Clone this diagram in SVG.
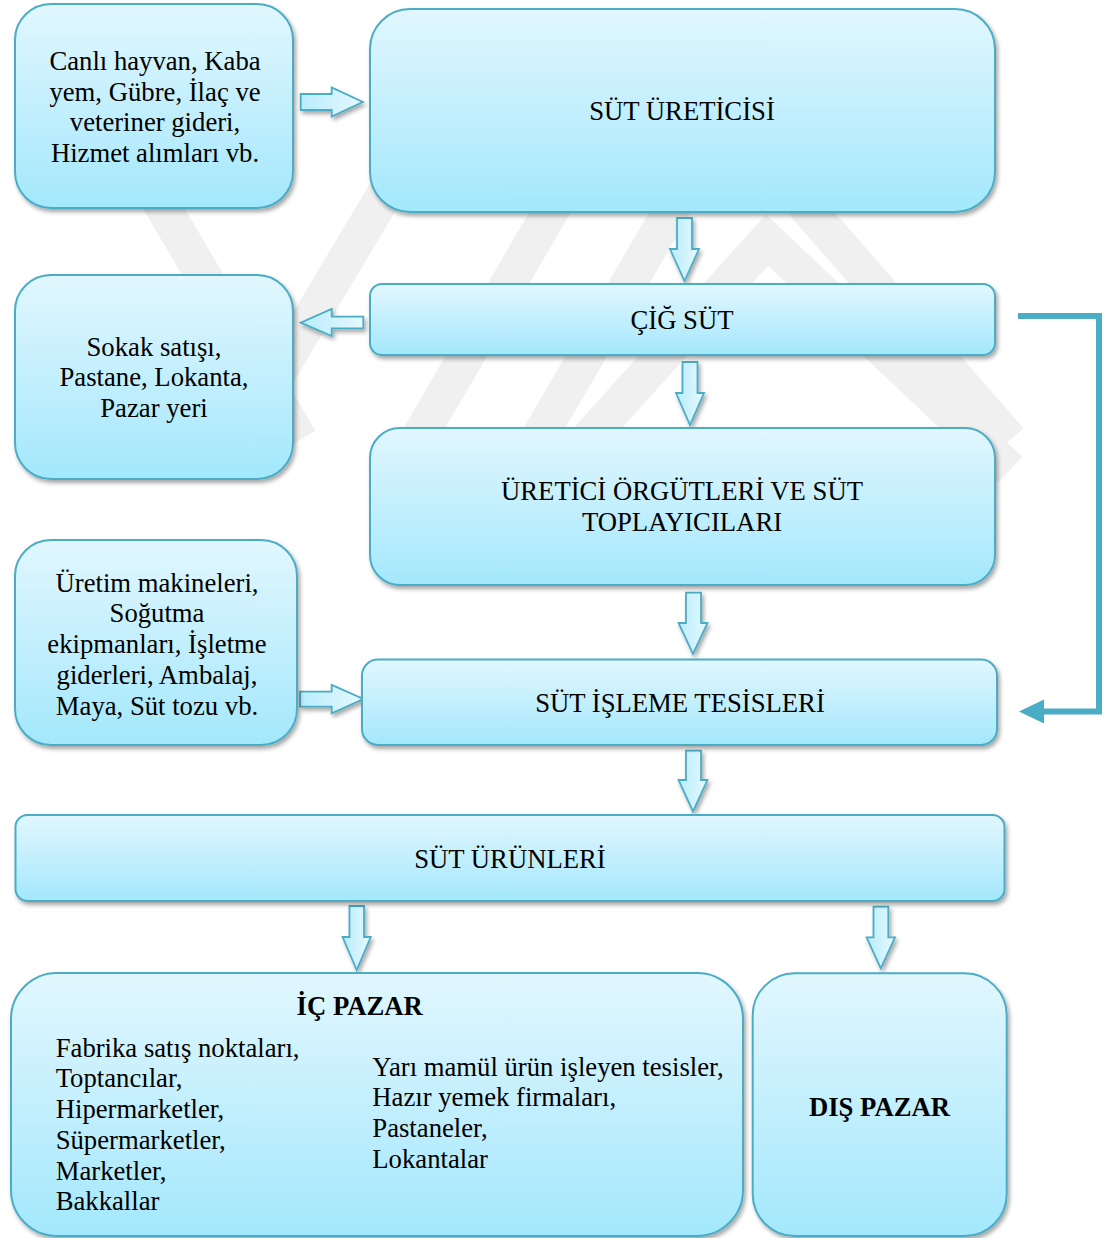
<svg xmlns="http://www.w3.org/2000/svg" width="1103" height="1238" viewBox="0 0 1103 1238">
<defs>
<linearGradient id="boxg" x1="0" y1="0" x2="0" y2="1">
<stop offset="0" stop-color="#e1f7fe"/>
<stop offset="0.5" stop-color="#c3effd"/>
<stop offset="1" stop-color="#a3e8fc"/>
</linearGradient>
<linearGradient id="arrg" x1="0" y1="0" x2="1" y2="0">
<stop offset="0" stop-color="#b8ecfc"/>
<stop offset="1" stop-color="#e6f9fe"/>
</linearGradient>
<filter id="sh" x="-10%" y="-10%" width="130%" height="130%">
<feDropShadow dx="2" dy="3" stdDeviation="2" flood-color="#000" flood-opacity="0.35"/>
</filter>
<style>
.box{fill:url(#boxg);stroke:#4bacc6;stroke-width:2;filter:url(#sh)}
.arr{fill:url(#arrg);stroke:#4bacc6;stroke-width:1.8;stroke-linejoin:miter;filter:url(#sh)}
.t{font-family:"Liberation Serif","Times New Roman",serif;font-size:26.7px;fill:#000}
.c{text-anchor:middle}
.b{font-weight:bold}
.wm{fill:none;stroke:#f0f0f0;stroke-width:36}
.fb{fill:none;stroke:#4bacc6;stroke-width:6}
</style>
</defs>
<rect width="1103" height="1238" fill="#fff"/>
<g id="watermark">
<line class="wm" x1="150" y1="185" x2="300" y2="440"/>
<line class="wm" x1="390" y1="185" x2="250" y2="420"/>
<line class="wm" x1="560" y1="195" x2="400" y2="470"/>
<line class="wm" x1="680" y1="195" x2="520" y2="470"/>
<polyline class="wm" points="560,470 767,240 1010,470"/>
<line class="wm" x1="800" y1="200" x2="1010" y2="440"/>
</g>
<g id="connectors">
<path class="arr" d="M300.7,94 H331.7 V87.5 L362.7,102 L331.7,116.5 V110 H300.7 Z"/>
<path class="arr" d="M677,218 H692 V249 H699 L684.5,281 L670,249 H677 Z"/>
<path class="arr" d="M363.3,316.7 H331.7 V309 L300.7,322.7 L331.7,336 V328.3 H363.3 Z"/>
<path class="arr" d="M682.5,362 H697.5 V393 H704 L690,425 L676,393 H682.5 Z"/>
<path class="arr" d="M686,592.7 H701 V623 H707.5 L693,654 L678.5,623 H686 Z"/>
<path class="arr" d="M300,691.7 H331.7 V685 L363.3,699 L331.7,713.3 V706.7 H300 Z"/>
<path class="arr" d="M686,750.7 H701 V780 H707.5 L693,811.5 L678.5,780 H686 Z"/>
<path class="arr" d="M349.5,906 H364 V937 H370.7 L356.7,970 L342.6,937 H349.5 Z"/>
<path class="arr" d="M873.5,906.7 H888.3 V937.3 H895 L880.8,968.3 L866.6,937.3 H873.5 Z"/>
<path class="fb" d="M1018,316 H1099 V711.5 H1042"/>
<polygon points="1019,711.5 1044,699.5 1044,723.5" fill="#4bacc6"/>
</g>
<g id="n1">
<rect class="box" x="15" y="4" width="278" height="204" rx="36"/>
<text class="t c" x="155" y="70">Canlı hayvan, Kaba</text>
<text class="t c" x="155" y="100.7">yem, Gübre, İlaç ve</text>
<text class="t c" x="155" y="131.4">veteriner gideri,</text>
<text class="t c" x="155" y="162">Hizmet alımları vb.</text>
</g>
<g id="n2">
<rect class="box" x="370" y="9" width="625" height="203" rx="40"/>
<text class="t c" x="682" y="120">SÜT ÜRETİCİSİ</text>
</g>
<g id="n3">
<rect class="box" x="370" y="284" width="625" height="71" rx="12"/>
<text class="t c" x="682" y="328.5">ÇİĞ SÜT</text>
</g>
<g id="n4">
<rect class="box" x="15" y="275" width="278" height="204" rx="36"/>
<text class="t c" x="154" y="355.5">Sokak satışı,</text>
<text class="t c" x="154" y="386.2">Pastane, Lokanta,</text>
<text class="t c" x="154" y="416.9">Pazar yeri</text>
</g>
<g id="n5">
<rect class="box" x="370" y="428" width="625" height="157" rx="30"/>
<text class="t c" x="682" y="500">ÜRETİCİ ÖRGÜTLERİ VE SÜT</text>
<text class="t c" x="682" y="530.7">TOPLAYICILARI</text>
</g>
<g id="n6">
<rect class="box" x="15" y="540" width="282" height="205" rx="36"/>
<text class="t c" x="157" y="591.7">Üretim makineleri,</text>
<text class="t c" x="157" y="622.4">Soğutma</text>
<text class="t c" x="157" y="653.1">ekipmanları, İşletme</text>
<text class="t c" x="157" y="683.8">giderleri, Ambalaj,</text>
<text class="t c" x="157" y="714.5">Maya, Süt tozu vb.</text>
</g>
<g id="n7">
<rect class="box" x="362" y="659.5" width="635" height="85.5" rx="16"/>
<text class="t c" x="680" y="711.7">SÜT İŞLEME TESİSLERİ</text>
</g>
<g id="n8">
<rect class="box" x="15.5" y="815" width="989" height="86" rx="12"/>
<text class="t c" x="510" y="868.3">SÜT ÜRÜNLERİ</text>
</g>
<g id="n9">
<rect class="box" x="11" y="973" width="732" height="263" rx="46"/>
<text class="t c b" x="359.7" y="1015">İÇ PAZAR</text>
<text class="t" x="55.7" y="1056.7">Fabrika satış noktaları,</text>
<text class="t" x="55.7" y="1087.4">Toptancılar,</text>
<text class="t" x="55.7" y="1118.1">Hipermarketler,</text>
<text class="t" x="55.7" y="1148.8">Süpermarketler,</text>
<text class="t" x="55.7" y="1179.5">Marketler,</text>
<text class="t" x="55.7" y="1210.2">Bakkallar</text>
<text class="t" x="372.3" y="1075.6">Yarı mamül ürün işleyen tesisler,</text>
<text class="t" x="372.3" y="1106.3">Hazır yemek firmaları,</text>
<text class="t" x="372.3" y="1137">Pastaneler,</text>
<text class="t" x="372.3" y="1167.7">Lokantalar</text>
</g>
<g id="n10">
<rect class="box" x="752.7" y="973.3" width="254" height="262.7" rx="42"/>
<text class="t c b" x="879.5" y="1116">DIŞ PAZAR</text>
</g>
</svg>
